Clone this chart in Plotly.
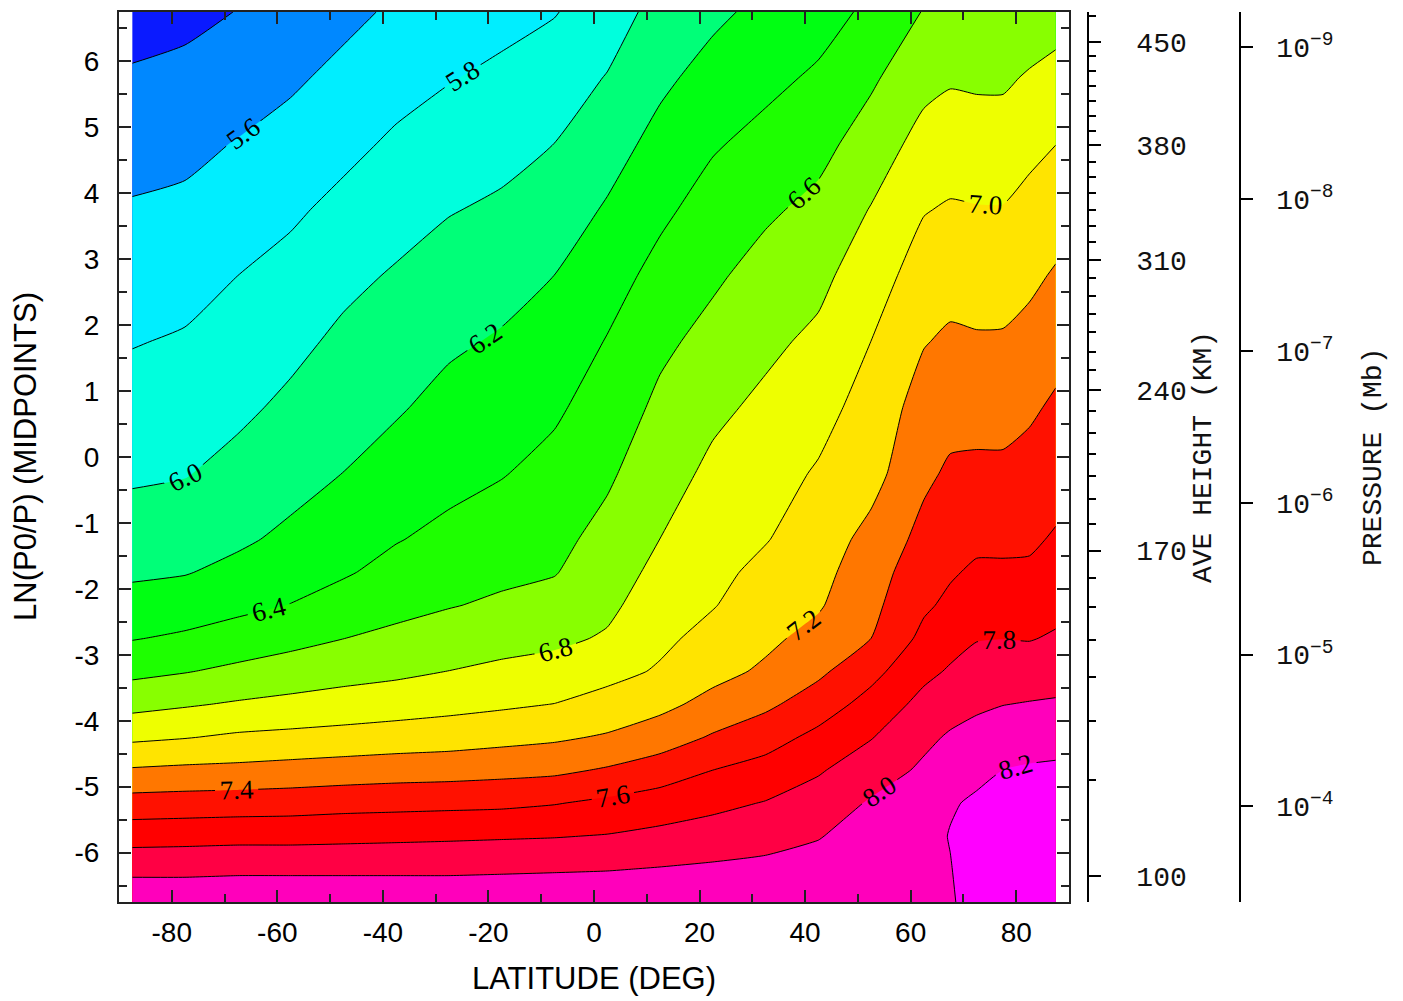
import numpy as np
import plotly.graph_objects as go

# ---------------- data ----------------
latitudes = [-87.5, -77.5, -67.5, -57.5, -47.5, -37.5, -27.5, -17.5, -7.5, 2.5,
             12.5, 22.5, 32.5, 42.5, 52.5, 62.5, 67.5, 72.5, 77.5, 82.5, 87.5]
lnp_levels = [-6.75, -6.25, -5.75, -5.25, -4.75, -4.25, -3.75, -3.25, -2.75, -2.25,
              -1.75, -1.25, -0.25, 0.75, 1.75, 2.75, 3.75, 4.75, 5.75, 6.75]

# one list per latitude column, bottom (lnP=-6.75) to top (lnP=6.75)
lat_s87_5 = [8.15, 7.95, 7.72, 7.48, 7.22, 6.96, 6.74, 6.55, 6.39, 6.27, 6.17, 6.10, 5.97, 5.88, 5.79, 5.70, 5.62, 5.52, 5.42, 5.33]
lat_s77_5 = [8.15, 7.95, 7.73, 7.49, 7.24, 6.99, 6.78, 6.59, 6.43, 6.30, 6.19, 6.12, 5.99, 5.90, 5.82, 5.73, 5.64, 5.55, 5.45, 5.35]
lat_s67_5 = [8.16, 7.96, 7.74, 7.50, 7.25, 7.03, 6.82, 6.64, 6.49, 6.35, 6.25, 6.17, 6.06, 5.96, 5.88, 5.80, 5.70, 5.61, 5.50, 5.405]
lat_s57_5 = [8.16, 7.96, 7.74, 7.51, 7.27, 7.05, 6.85, 6.69, 6.54, 6.405, 6.32, 6.24, 6.13, 6.04, 5.95, 5.86, 5.77, 5.67, 5.57, 5.48]
lat_s47_5 = [8.16, 7.96, 7.75, 7.53, 7.29, 7.07, 6.88, 6.73, 6.598, 6.48, 6.38, 6.32, 6.202, 6.12, 6.04, 5.95, 5.85, 5.75, 5.65, 5.55]
lat_s37_5 = [8.16, 7.96, 7.76, 7.54, 7.31, 7.09, 6.91, 6.76, 6.64, 6.55, 6.46, 6.39, 6.28, 6.18, 6.10, 6.02, 5.92, 5.83, 5.73, 5.63]
lat_s27_5 = [8.16, 7.96, 7.77, 7.55, 7.32, 7.11, 6.94, 6.802, 6.69, 6.59, 6.52, 6.45, 6.34, 6.26, 6.17, 6.08, 5.99, 5.89, 5.79, 5.70]
lat_s17_5 = [8.16, 7.97, 7.78, 7.56, 7.34, 7.14, 6.97, 6.84, 6.73, 6.63, 6.56, 6.50, 6.39, 6.31, 6.22, 6.13, 6.03, 5.94, 5.84, 5.74]
lat_s7_5 = [8.16, 7.98, 7.79, 7.59, 7.36, 7.17, 7.003, 6.87, 6.76, 6.67, 6.59, 6.55, 6.46, 6.37, 6.28, 6.201, 6.10, 6.001, 5.90, 5.79]
lat_n2_5 = [8.16, 7.99, 7.81, 7.64, 7.42, 7.22, 7.07, 6.94, 6.82, 6.76, 6.71, 6.66, 6.57, 6.49, 6.41, 6.32, 6.22, 6.12, 6.01, 5.90]
lat_n12_5 = [8.16, 8.01, 7.85, 7.69, 7.50, 7.30, 7.15, 7.02, 6.96, 6.90, 6.85, 6.801, 6.72, 6.64, 6.56, 6.46, 6.36, 6.26, 6.16, 6.07]
lat_n22_5 = [8.15, 8.03, 7.89, 7.75, 7.60, 7.42, 7.26, 7.14, 7.06, 6.99, 6.95, 6.92, 6.84, 6.76, 6.66, 6.57, 6.48, 6.38, 6.27, 6.16]
lat_n32_5 = [8.14, 8.05, 7.93, 7.81, 7.67, 7.52, 7.36, 7.23, 7.16, 7.10, 7.05, 6.99, 6.92, 6.84, 6.76, 6.67, 6.57, 6.46, 6.35, 6.25]
lat_n42_5 = [8.14, 8.07, 7.99, 7.89, 7.78, 7.65, 7.50, 7.36, 7.26, 7.18, 7.14, 7.10, 7.02, 6.93, 6.84, 6.75, 6.65, 6.54, 6.43, 6.32]
lat_n52_5 = [8.15, 8.12, 8.08, 8.02, 7.91, 7.79, 7.67, 7.54, 7.40, 7.35, 7.31, 7.26, 7.13, 7.08, 7.001, 6.91, 6.81, 6.69, 6.57, 6.44]
lat_n62_5 = [8.17, 8.15, 8.12, 8.08, 8.03, 7.96, 7.86, 7.75, 7.65, 7.57, 7.52, 7.46, 7.36, 7.28, 7.19, 7.09, 6.99, 6.87, 6.74, 6.61]
lat_n67_5 = [8.16, 8.19, 8.21, 8.18, 8.08, 8.02, 7.93, 7.82, 7.73, 7.64, 7.58, 7.53, 7.43, 7.33, 7.23, 7.13, 7.02, 6.90, 6.78, 6.66]
lat_n72_5 = [8.35, 8.32, 8.28, 8.23, 8.15, 8.06, 7.97, 7.88, 7.79, 7.71, 7.63, 7.56, 7.44, 7.33, 7.22, 7.11, 7.01, 6.89, 6.77, 6.65]
lat_n77_5 = [8.41, 8.38, 8.34, 8.28, 8.201, 8.10, 7.996, 7.90, 7.797, 7.71, 7.63, 7.56, 7.44, 7.33, 7.22, 7.12, 7.01, 6.89, 6.77, 6.66]
lat_n82_5 = [8.43, 8.40, 8.36, 8.30, 8.22, 8.12, 8.01, 7.90, 7.79, 7.71, 7.63, 7.57, 7.47, 7.37, 7.26, 7.16, 7.06, 6.95, 6.82, 6.68]
lat_n87_5 = [8.43, 8.40, 8.36, 8.30, 8.23, 8.13, 8.02, 7.92, 7.82, 7.75, 7.68, 7.62, 7.52, 7.43, 7.33, 7.22, 7.11, 6.998, 6.86, 6.72]

columns = [lat_s87_5, lat_s77_5, lat_s67_5, lat_s57_5, lat_s47_5, lat_s37_5, lat_s27_5,
           lat_s17_5, lat_s7_5, lat_n2_5, lat_n12_5, lat_n22_5, lat_n32_5, lat_n42_5,
           lat_n52_5, lat_n62_5, lat_n67_5, lat_n72_5, lat_n77_5, lat_n82_5, lat_n87_5]
zgrid = np.array(columns).T  # rows = levels, cols = latitudes

# contour settings
c_start, c_end, c_size = 5.4, 8.2, 0.2
band_colors = ["#0A1AFF", "#0088FF", "#00EEFF", "#00FFDD", "#00FF78", "#00FF12",
               "#1EFF00", "#88FF00", "#EEFF00", "#FFE400", "#FF7700", "#FF1100",
               "#FF0000", "#FF0044", "#FF00BB", "#FF00FF"]

# axis ticks
lat_ticks = [-80, -60, -40, -20, 0, 20, 40, 60, 80]
lnp_ticks = [-6, -5, -4, -3, -2, -1, 0, 1, 2, 3, 4, 5, 6]
height_labels = [100, 170, 240, 310, 380, 450]
height_label_pos = [-6.36, -1.42, 1.02, 2.99, 4.73, 6.29]
height_minor_pos = [-6.36, -4.90, -4.01, -3.33, -2.77, -2.28, -1.83, -1.42, -1.02, -0.64,
                    -0.29, 0.05, 0.37, 0.70, 1.02, 1.32, 1.60, 1.89, 2.17, 2.44, 2.71,
                    2.99, 3.26, 3.51, 3.75, 4.00, 4.25, 4.48, 4.73, 4.95, 5.18, 5.40,
                    5.63, 5.86, 6.08, 6.29, 6.69]
pressure_exponents = [-4, -5, -6, -7, -8, -9]
P0_MB = 5e-7  # reference pressure of ln(P0/P)

# ---------------- figure ----------------
n = len(band_colors)
colorscale = []
for k, c in enumerate(band_colors):
    lo = max(0.0, (k - 0.5) / (n - 1))
    hi = min(1.0, (k + 0.5) / (n - 1))
    colorscale.append([lo, c])
    colorscale.append([hi, c])

PAGE_OFF = 8                      # default body margin of the html page
W, H = 1403 - 2 * PAGE_OFF, 1001 - PAGE_OFF
FRAME_L, FRAME_R, FRAME_T, FRAME_B = 119, 1069, 10, 902   # page pixels
ML = FRAME_L - PAGE_OFF
MT = FRAME_T - PAGE_OFF
MB = H - (FRAME_B - PAGE_OFF)
MR = 20
plot_w = W - ML - MR
plot_h = H - MT - MB
xdom = (FRAME_R - FRAME_L) / plot_w

def xpaper(px):
    return (px - FRAME_L) / plot_w

def ypaper(py):
    return (FRAME_B - py) / plot_h

fig = go.Figure()
fig.add_trace(go.Contour(
    x=latitudes, y=lnp_levels, z=zgrid,
    autocontour=False,
    contours=dict(start=c_start, end=c_end, size=c_size, coloring="fill",
                  showlabels=True, labelformat=".1f",
                  labelfont=dict(family="Liberation Serif", size=27, color="black")),
    colorscale=colorscale, showscale=False,
    line=dict(color="black", width=1, smoothing=0.5),
    hoverinfo="skip",
))

# placeholder traces so the extra axes render
for ax in ["y2", "y3", "y4"]:
    fig.add_trace(go.Scatter(x=[None], y=[None], yaxis=ax, showlegend=False, hoverinfo="skip"))

lab_font = dict(family="Liberation Sans", size=28, color="black")
title_font = dict(family="Liberation Sans", size=31, color="black")
mono_font = dict(family="Liberation Mono", size=28, color="#111111")
yrange = [-6.75, 6.75]

fig.update_layout(
    width=W, height=H, autosize=False,
    margin=dict(l=ML, r=MR, t=MT, b=MB),
    paper_bgcolor="white", plot_bgcolor="white",
    showlegend=False,
    xaxis=dict(domain=[0, xdom], range=[-90, 90], tickmode="array", tickvals=lat_ticks,
               ticktext=[str(v) for v in lat_ticks],
               ticks="inside", ticklen=12, tickwidth=1.5, tickcolor="#222",
               minor=dict(dtick=10, tick0=0, ticks="inside", ticklen=8, tickwidth=1.5, tickcolor="#222"),
               showline=True, linecolor="#222", linewidth=2, mirror="ticks",
               showgrid=False, zeroline=False, tickfont=lab_font, ticklabelstandoff=4),
    yaxis=dict(range=yrange, tickmode="array", tickvals=lnp_ticks,
               ticktext=[str(v) for v in lnp_ticks],
               ticks="inside", ticklen=12, tickwidth=1.5, tickcolor="#222",
               minor=dict(dtick=0.5, tick0=0, ticks="inside", ticklen=8, tickwidth=1.5, tickcolor="#222"),
               showline=True, linecolor="#222", linewidth=2, mirror="ticks",
               showgrid=False, zeroline=False, tickfont=lab_font, ticklabelstandoff=12),
    yaxis2=dict(range=yrange, overlaying="y", anchor="free", side="right",
                position=xpaper(1088), tickmode="array", tickvals=height_label_pos,
                ticktext=[str(h) for h in height_labels],
                ticks="outside", ticklen=12, tickwidth=1.5, tickcolor="black",
                showline=True, linecolor="black", linewidth=1.5,
                showgrid=False, zeroline=False, tickfont=mono_font, ticklabelstandoff=30),
    yaxis4=dict(range=yrange, overlaying="y", anchor="free", side="right",
                position=xpaper(1088), tickmode="array", tickvals=height_minor_pos,
                ticks="outside", ticklen=7, tickwidth=1.5, tickcolor="black",
                showline=False, showticklabels=False, showgrid=False, zeroline=False),
    yaxis3=dict(range=yrange, overlaying="y", anchor="free", side="right",
                position=xpaper(1240), tickmode="array",
                tickvals=[float(np.log(P0_MB / 10.0 ** e)) for e in pressure_exponents],
                ticktext=["10<sup>\u2212%d</sup>" % (-e) for e in pressure_exponents],
                ticks="outside", ticklen=12, tickwidth=1.5, tickcolor="black",
                showline=True, linecolor="black", linewidth=1.5,
                showgrid=False, zeroline=False, tickfont=mono_font, ticklabelstandoff=18),
)

annos = [
    dict(text="LATITUDE (DEG)", x=xpaper(594), y=ypaper(979), font=title_font, textangle=0),
    dict(text="LN(P0/P) (MIDPOINTS)", x=xpaper(25), y=ypaper(456), font=title_font, textangle=-90),
    dict(text="AVE HEIGHT (KM)", x=xpaper(1203), y=ypaper(456), font=mono_font, textangle=-90),
    dict(text="PRESSURE (Mb)", x=xpaper(1373), y=ypaper(456), font=mono_font, textangle=-90),
]
for a in annos:
    fig.add_annotation(xref="paper", yref="paper", showarrow=False,
                       xanchor="center", yanchor="middle", **a)

fig.write_html("out.html")
